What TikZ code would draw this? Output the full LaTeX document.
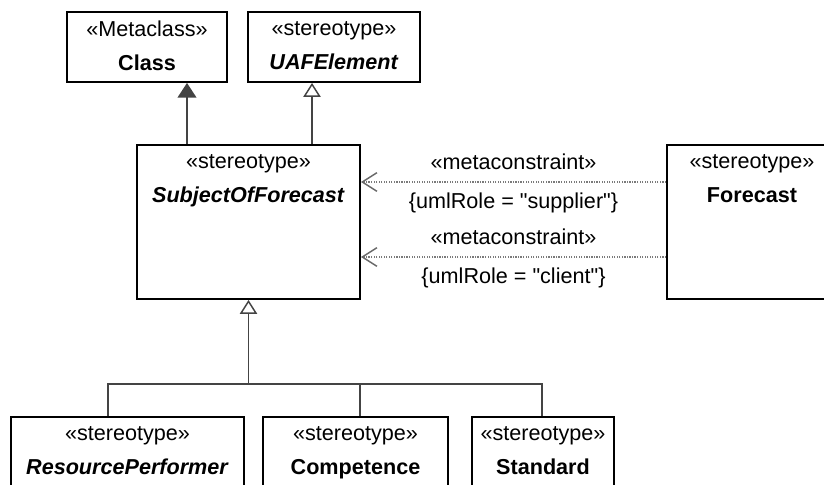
\documentclass[tikz,border=0pt]{standalone}
\usepackage{fontspec}
\setmainfont{Liberation Sans}[Ligatures=TeXOff]
\usetikzlibrary{arrows.meta,calc}
\definecolor{linegray}{HTML}{444444}
\definecolor{dotgray}{HTML}{7A7A7A}
\begin{document}
\begin{tikzpicture}[x=0.75pt, y=-0.75pt,
  font=\fontsize{16.2pt}{25.5pt}\selectfont,
  every node/.style={align=center},
  box/.style={draw=black, line width=1.4pt, fill=white, inner sep=0pt},
  boxtext/.style={anchor=north, inner sep=0pt, yshift=-7.5pt},
  gen/.style={draw=linegray, line width=1.3pt},
  genfilled/.style={gen, -{Triangle[length=11pt, width=14pt, fill=linegray]}},
  genopen/.style={gen, -{Triangle[open, length=10.5pt, width=13pt, line width=1.1pt]}},
  meta/.style={draw=dotgray, line width=0.9pt, densely dotted,
    -{Straight Barb[length=11pt, width=14pt, line width=1.1pt, color=linegray!80]}}]
  \def\px{0.75pt}
  \useasboundingbox (0,0) rectangle (824,485);
  \clip (0,0) rectangle (824,485);

  % metaclass and parent stereotype
  \node[box, minimum width=160*\px, minimum height=70*\px] (class) at (147,47) {};
  \node[boxtext] (class-t) at (class.north) {«Metaclass»\\\textbf{Class}};
  \node[box, minimum width=172*\px, minimum height=70*\px] (uaf) at (334,47) {};
  \node[boxtext] (uaf-t) at (uaf.north) {«stereotype»\\\textbf{\textit{UAFElement}}};

  \node[box, minimum width=223*\px, minimum height=154*\px] (sof) at (248.5,222) {};
  \node[boxtext] (sof-t) at (sof.north) {«stereotype»\\\textbf{\textit{SubjectOfForecast}}};
  \node[box, minimum width=170*\px, minimum height=154*\px] (fc) at (752,222) {};
  \node[boxtext] (fc-t) at (fc.north) {«stereotype»\\\textbf{Forecast}};

  % specialisations (cut off by the frame)
  \node[box, minimum width=233*\px, minimum height=100*\px] (rp) at (127.5,467) {};
  \node[boxtext] (rp-t) at (rp.north) {«stereotype»\\\textbf{\textit{ResourcePerformer}}};
  \node[box, minimum width=185*\px, minimum height=100*\px] (comp) at (355.5,467) {};
  \node[boxtext] (comp-t) at (comp.north) {«stereotype»\\\textbf{Competence}};
  \node[box, minimum width=142*\px, minimum height=100*\px] (std) at (543,467) {};
  \node[boxtext] (std-t) at (std.north) {«stereotype»\\\textbf{Standard}};

  \coordinate (c1) at ($(sof.north)+(-61.5,0)$);
  \coordinate (c2) at ($(sof.north)+(63.5,0)$);
  \draw[genfilled] (c1) -- (c1 |- class.south);
  \draw[genopen] (c2) -- (c2 |- uaf.south);

  \draw[meta] ($(fc.west)+(0,-40)$) -- ($(sof.east)+(0,-40)$)
    node[midway, above=6pt, inner sep=3pt] {«metaconstraint»}
    node[midway, below=4.5pt, inner sep=3pt] {\{umlRole = "supplier"\}};
  \draw[meta] ($(fc.west)+(0,35)$) -- ($(sof.east)+(0,35)$)
    node[midway, above=6pt, inner sep=3pt] {«metaconstraint»}
    node[midway, below=4.5pt, inner sep=3pt] {\{umlRole = "client"\}};

  \coordinate (bus) at ($(sof.south)+(0,84)$);
  \draw[gen] ($(rp.north)+(-19.5,0)$) |- (bus) -| ($(std.north)+(-1,0)$);
  \draw[gen] ($(comp.north)+(4.5,0)$) |- (bus);
  \draw[genopen] (bus) -- (sof.south);
\end{tikzpicture}
\end{document}
